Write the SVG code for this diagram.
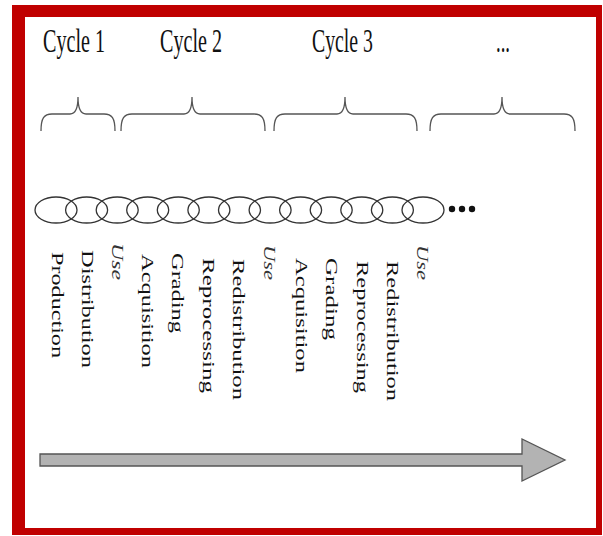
<svg xmlns="http://www.w3.org/2000/svg" width="603" height="536" viewBox="0 0 603 536">
<style>
.title{font-family:"Liberation Serif","Times New Roman",serif;font-size:34px;fill:#111}
.lbl{font-family:"Liberation Serif","Times New Roman",serif;font-size:16px;fill:#111}
.use{font-family:"Liberation Serif","Times New Roman",serif;font-size:16px;font-style:italic;fill:#333}
.brace{fill:none;stroke:#555;stroke-width:1.3}
.ring{fill:none;stroke:#333;stroke-width:1.3}
</style>
<g id="frame">
<rect x="12" y="5" width="590" height="530" fill="#c00000"/>
<rect x="25" y="17" width="571" height="511" fill="#ffffff"/>
</g>
<g id="titles">
<text class="title" x="43" y="52" textLength="62" lengthAdjust="spacingAndGlyphs">Cycle 1</text>
<text class="title" x="160" y="52" textLength="62" lengthAdjust="spacingAndGlyphs">Cycle 2</text>
<text class="title" x="312" y="52" textLength="61" lengthAdjust="spacingAndGlyphs">Cycle 3</text>
<text class="title" x="496" y="52" textLength="14" lengthAdjust="spacingAndGlyphs">...</text>
</g>
<g id="braces">
<path class="brace" d="M41,131 C41,118 44,114 52,114 L70,114 C75,114 78,110 78,97 C78,110 81,114 86,114 L104,114 C112,114 115,118 115,131"/>
<path class="brace" d="M121,131 C121,118 124,114 132,114 L184,114 C189,114 192,110 192,97 C192,110 195,114 200,114 L254,114 C262,114 265,118 265,131"/>
<path class="brace" d="M274,131 C274,118 277,114 285,114 L337,114 C342,114 345,110 345,97 C345,110 348,114 353,114 L406,114 C414,114 417,118 417,131"/>
<path class="brace" d="M430,131 C430,118 433,114 441,114 L494,114 C499,114 502,110 502,97 C502,110 505,114 510,114 L564,114 C572,114 575,118 575,131"/>
</g>
<g id="chain">
<ellipse class="ring" cx="56" cy="210" rx="21" ry="13"/>
<ellipse class="ring" cx="86.6" cy="210" rx="21" ry="13"/>
<ellipse class="ring" cx="117.2" cy="210" rx="21" ry="13"/>
<ellipse class="ring" cx="147.7" cy="210" rx="21" ry="13"/>
<ellipse class="ring" cx="178.3" cy="210" rx="21" ry="13"/>
<ellipse class="ring" cx="208.9" cy="210" rx="21" ry="13"/>
<ellipse class="ring" cx="239.5" cy="210" rx="21" ry="13"/>
<ellipse class="ring" cx="270.1" cy="210" rx="21" ry="13"/>
<ellipse class="ring" cx="300.6" cy="210" rx="21" ry="13"/>
<ellipse class="ring" cx="331.2" cy="210" rx="21" ry="13"/>
<ellipse class="ring" cx="361.8" cy="210" rx="21" ry="13"/>
<ellipse class="ring" cx="392.4" cy="210" rx="21" ry="13"/>
<ellipse class="ring" cx="423" cy="210" rx="21" ry="13"/>
<circle cx="452" cy="209" r="3.2" fill="#111"/>
<circle cx="462" cy="209" r="3.2" fill="#111"/>
<circle cx="472" cy="209" r="3.2" fill="#111"/>
</g>
<g id="labels">
<g id="n-production"><text class="lbl" transform="translate(52,252) rotate(90)" textLength="106" lengthAdjust="spacingAndGlyphs">Production</text></g>
<g id="n-distribution"><text class="lbl" transform="translate(82,250) rotate(90)" textLength="118" lengthAdjust="spacingAndGlyphs">Distribution</text></g>
<g id="n-use1"><text class="use" transform="translate(112,243) rotate(90)" textLength="37" lengthAdjust="spacingAndGlyphs">Use</text></g>
<g id="n-acquisition1"><text class="lbl" transform="translate(142,254) rotate(90)" textLength="114" lengthAdjust="spacingAndGlyphs">Acquisition</text></g>
<g id="n-grading1"><text class="lbl" transform="translate(172,253) rotate(90)" textLength="80" lengthAdjust="spacingAndGlyphs">Grading</text></g>
<g id="n-reprocessing1"><text class="lbl" transform="translate(203,258) rotate(90)" textLength="135" lengthAdjust="spacingAndGlyphs">Reprocessing</text></g>
<g id="n-redistribution1"><text class="lbl" transform="translate(233,259) rotate(90)" textLength="141" lengthAdjust="spacingAndGlyphs">Redistribution</text></g>
<g id="n-use2"><text class="use" transform="translate(264,245) rotate(90)" textLength="35" lengthAdjust="spacingAndGlyphs">Use</text></g>
<g id="n-acquisition2"><text class="lbl" transform="translate(296,258) rotate(90)" textLength="115" lengthAdjust="spacingAndGlyphs">Acquisition</text></g>
<g id="n-grading2"><text class="lbl" transform="translate(326,258) rotate(90)" textLength="82" lengthAdjust="spacingAndGlyphs">Grading</text></g>
<g id="n-reprocessing2"><text class="lbl" transform="translate(357,261) rotate(90)" textLength="132" lengthAdjust="spacingAndGlyphs">Reprocessing</text></g>
<g id="n-redistribution2"><text class="lbl" transform="translate(387,261) rotate(90)" textLength="140" lengthAdjust="spacingAndGlyphs">Redistribution</text></g>
<g id="n-use3"><text class="use" transform="translate(417,245) rotate(90)" textLength="35" lengthAdjust="spacingAndGlyphs">Use</text></g>
</g>
<g id="connectors">
<path d="M40,454 L522,454 L522,439 L565,460 L522,481 L522,466 L40,466 Z" fill="#b3b3b3" stroke="#555" stroke-width="1.3" stroke-linejoin="miter"/>
</g>
</svg>
